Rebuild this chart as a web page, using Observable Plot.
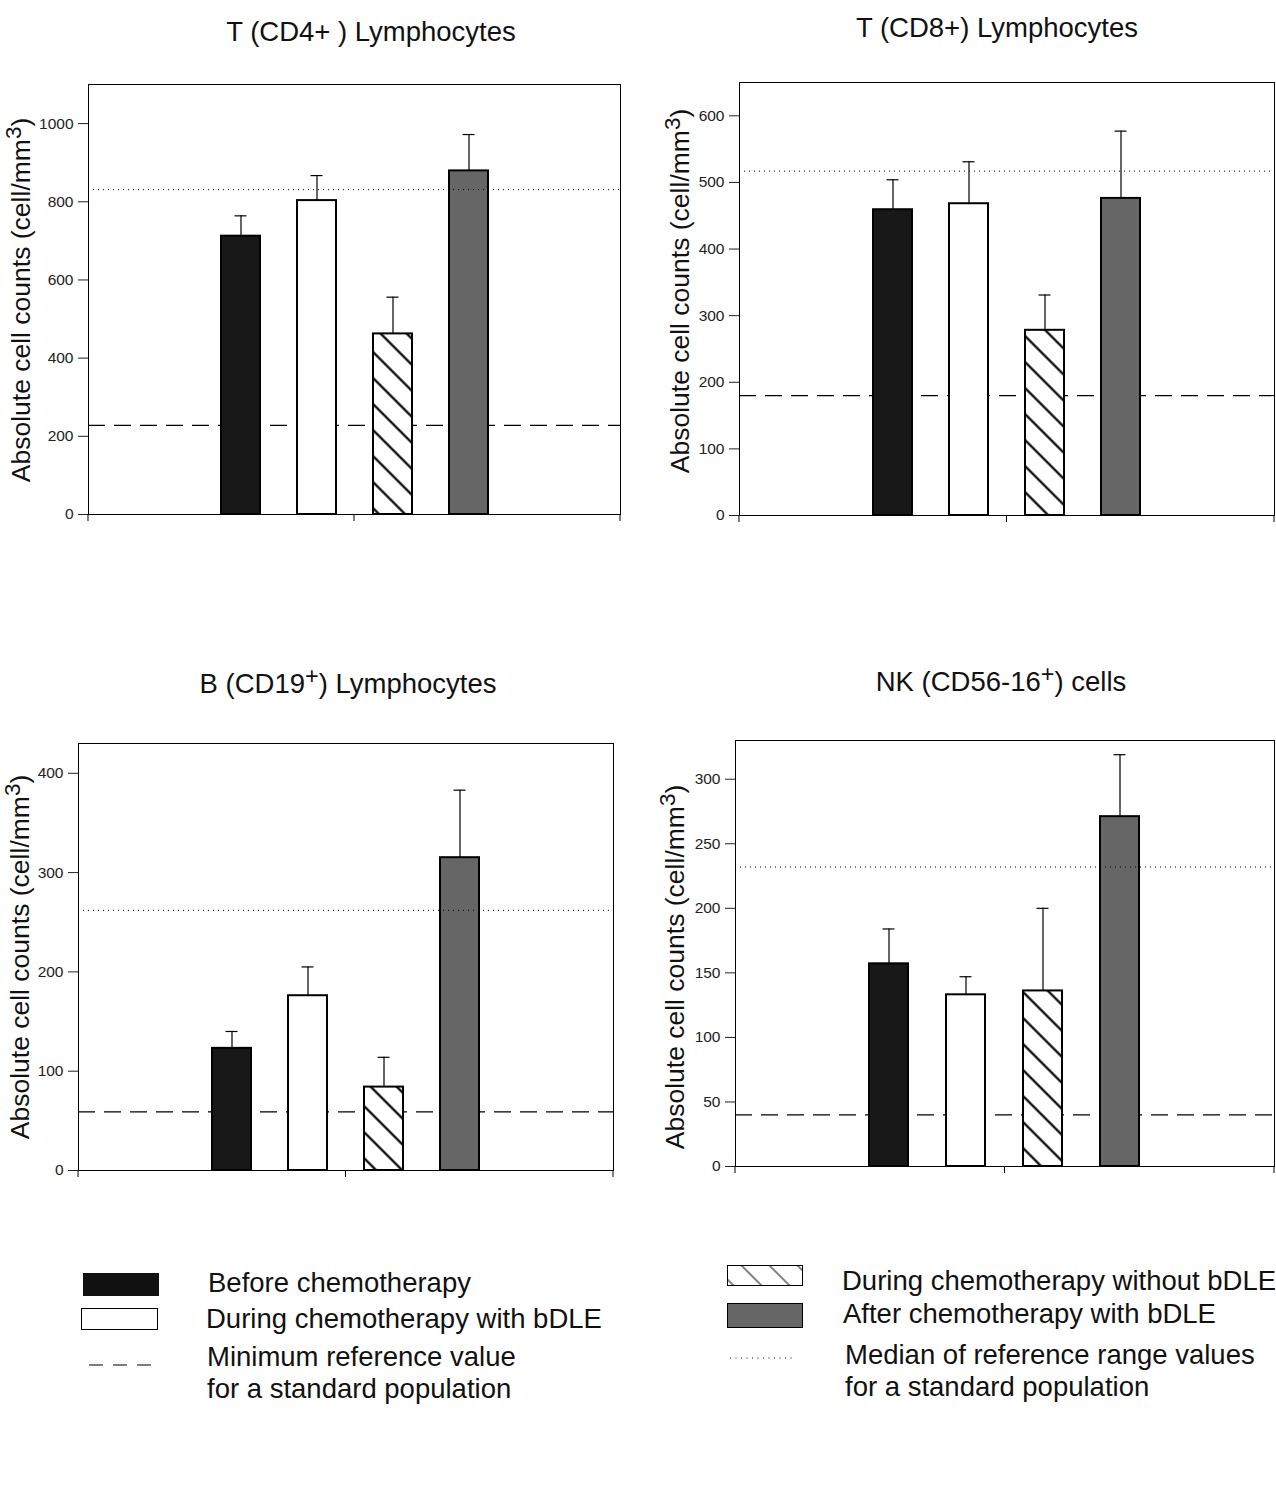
<!DOCTYPE html>
<html>
<head>
<meta charset="utf-8">
<script src="https://cdn.jsdelivr.net/npm/d3@7"></script>
<script src="https://cdn.jsdelivr.net/npm/@observablehq/plot@0.6"></script>
<style>
  body { margin: 0; background: #fff; font-family: "Liberation Sans", Arial, sans-serif; color: #111; }
  #page { position: relative; width: 1276px; height: 1510px; overflow: hidden; }
  .panel { position: absolute; }
  .title { position: absolute; font-size: 27.5px; white-space: nowrap; transform: translate(-50%, -50%); line-height: 1; }
  .ylab { position: absolute; font-size: 26.5px; white-space: nowrap; transform: translate(-50%, -50%) rotate(-90deg); line-height: 1.2; padding: 4px 0; }
  sup { font-size: 85%; vertical-align: 0.4em; line-height: 0; }
  .ltext { position: absolute; font-size: 27.5px; white-space: nowrap; transform: translateY(-50%); line-height: 1; }
  .lsw { position: absolute; }
</style>
</head>
<body>
<div id="page"></div>
<script>
// groups shown in every panel
const statuses = [
  "Before chemotherapy",
  "During chemotherapy with bDLE",
  "During chemotherapy without bDLE",
  "After chemotherapy with bDLE"
];

// T (CD4+) lymphocytes
const cd4Means = [712, 803, 462, 879];
const cd4Errors = [52, 64, 94, 93];
const cd4MinRef = 228;
const cd4MedianRef = 831;
const cd4Ticks = [0, 200, 400, 600, 800, 1000];
const cd4Max = 1100;

// T (CD8+) lymphocytes
const cd8Means = [459, 468, 278, 476];
const cd8Errors = [45, 63, 53, 101];
const cd8MinRef = 180;
const cd8MedianRef = 517;
const cd8Ticks = [0, 100, 200, 300, 400, 500, 600];
const cd8Max = 650;

// B (CD19+) lymphocytes
const cd19Means = [123, 176, 84, 315];
const cd19Errors = [17, 29, 30, 68];
const cd19MinRef = 59;
const cd19MedianRef = 262;
const cd19Ticks = [0, 100, 200, 300, 400];
const cd19Max = 430;

// NK (CD56-16+) cells
const nkMeans = [157, 133, 136, 271];
const nkErrors = [27, 14, 64, 48];
const nkMinRef = 40;
const nkMedianRef = 232;
const nkTicks = [0, 50, 100, 150, 200, 250, 300];
const nkMax = 330;

const yLabel = "Absolute cell counts (cell/mm<sup>3</sup>)";

const page = d3.select("#page");

function panel(cfg) {
  const rows = statuses.map((s, i) => ({
    status: s,
    mean: cfg.means[i],
    top: cfg.means[i] + cfg.errors[i]
  }));
  const hatchId = "hatch-" + cfg.key;
  const fillOf = {
    [statuses[0]]: "#181818",
    [statuses[1]]: "white",
    [statuses[2]]: `url(#${hatchId})`,
    [statuses[3]]: "#666666"
  };

  // pattern for the "without bDLE" bars
  const hatchDefs = () => {
    const defs = d3.create("svg:defs");
    const p = defs.append("pattern")
      .attr("id", hatchId)
      .attr("patternUnits", "userSpaceOnUse")
      .attr("width", 18.4).attr("height", 18.4)
      .attr("patternTransform", "rotate(-45)");
    p.append("rect").attr("width", 18.4).attr("height", 18.4).attr("fill", "white");
    p.append("line").attr("x1", 9.2).attr("x2", 9.2).attr("y1", -1).attr("y2", 19.4)
      .attr("stroke", "black").attr("stroke-width", 2.2);
    return defs.node();
  };

  // small ticks under the baseline: both ends and the middle
  const bottomTicks = (index, scales, values, dims) => {
    const x0 = dims.marginLeft, x1 = dims.width - dims.marginRight;
    const yb = dims.height - dims.marginBottom;
    const g = d3.create("svg:g").attr("stroke", "black");
    for (const x of [x0, (x0 + x1) / 2, x1]) {
      g.append("line").attr("x1", x).attr("x2", x).attr("y1", yb).attr("y2", yb + 7);
    }
    return g.node();
  };

  const chart = Plot.plot({
    width: cfg.width,
    height: cfg.height,
    marginLeft: cfg.ml,
    marginRight: cfg.mr,
    marginTop: 14,
    marginBottom: 20,
    style: { fontFamily: "Liberation Sans, Arial, sans-serif", fontSize: "15.5px", color: "#222", background: "white", overflow: "visible" },
    x: { domain: statuses, paddingInner: 0.49, paddingOuter: 1.745, axis: null },
    y: { domain: [0, cfg.max], ticks: cfg.ticks, tickFormat: "d", tickSize: 10, tickPadding: 5, label: null },
    color: { type: "identity" },
    marks: [
      hatchDefs,
      Plot.ruleY([cfg.minRef], { stroke: "black", strokeWidth: 1.1, strokeDasharray: "17,9" }),
      Plot.ruleX(rows, { x: "status", y1: "mean", y2: "top", stroke: "black", strokeWidth: 1.2 }),
      Plot.tickY(rows, { x: "status", y: "top", stroke: "black", strokeWidth: 1.2, insetLeft: 13.5, insetRight: 13.5 }),
      Plot.barY(rows, { x: "status", y: "mean", fill: d => fillOf[d.status], stroke: "black", strokeWidth: 2 }),
      Plot.ruleY([cfg.medianRef], { stroke: "black", strokeWidth: 1, strokeDasharray: "1,4" }),
      Plot.frame({ stroke: "black", strokeWidth: 1 }),
      bottomTicks
    ]
  });

  page.append("div").attr("class", "panel")
    .style("left", cfg.left + "px").style("top", cfg.top + "px")
    .append(() => chart);
  page.append("div").attr("class", "title")
    .style("left", cfg.titleX + "px").style("top", cfg.titleY + "px")
    .html(cfg.title);
  page.append("div").attr("class", "ylab")
    .style("left", cfg.labX + "px").style("top", cfg.labY + "px")
    .html(yLabel);
}

panel({ key: "cd4", title: "T (CD4+ ) Lymphocytes", means: cd4Means, errors: cd4Errors,
  minRef: cd4MinRef, medianRef: cd4MedianRef, ticks: cd4Ticks, max: cd4Max,
  left: 0, top: 70, width: 630, height: 464, ml: 88, mr: 10,
  titleX: 371, titleY: 32, labX: 22, labY: 300 });

panel({ key: "cd8", title: "T (CD8+) Lymphocytes", means: cd8Means, errors: cd8Errors,
  minRef: cd8MinRef, medianRef: cd8MedianRef, ticks: cd8Ticks, max: cd8Max,
  left: 640, top: 68, width: 636, height: 467, ml: 99, mr: 2,
  titleX: 997, titleY: 28, labX: 681, labY: 291 });

panel({ key: "cd19", title: "B (CD19<sup>+</sup>) Lymphocytes", means: cd19Means, errors: cd19Errors,
  minRef: cd19MinRef, medianRef: cd19MedianRef, ticks: cd19Ticks, max: cd19Max,
  left: 0, top: 729, width: 630, height: 461, ml: 78, mr: 17,
  titleX: 348, titleY: 684, labX: 21, labY: 957 });

panel({ key: "nk", title: "NK (CD56-16<sup>+</sup>) cells", means: nkMeans, errors: nkErrors,
  minRef: nkMinRef, medianRef: nkMedianRef, ticks: nkTicks, max: nkMax,
  left: 640, top: 726, width: 636, height: 460, ml: 95, mr: 2,
  titleX: 1001, titleY: 682, labX: 676, labY: 967 });

// legend
function swatch(x, y, w, h, inner) {
  page.append("svg").attr("class", "lsw")
    .style("left", x + "px").style("top", y + "px")
    .attr("width", w).attr("height", h)
    .html(inner);
}
function ltext(x, y, t) {
  page.append("div").attr("class", "ltext")
    .style("left", x + "px").style("top", y + "px").text(t);
}

swatch(83, 1273, 76, 23, `<rect x="0" y="0" width="76" height="23" fill="#111"/>`);
swatch(81, 1308, 77, 22, `<rect x="0.5" y="0.5" width="76" height="21" fill="white" stroke="black"/>`);
swatch(88, 1360, 66, 10, `<line x1="1" x2="65" y1="5" y2="5" stroke="black" stroke-width="1.2" stroke-dasharray="14,10"/>`);
ltext(208, 1283, statuses[0]);
ltext(206, 1319, statuses[1]);
ltext(207, 1357, "Minimum reference value");
ltext(207, 1389, "for a standard population");

swatch(727, 1265, 76, 22, `<defs><pattern id="lhatch" patternUnits="userSpaceOnUse" width="19.8" height="19.8" patternTransform="rotate(-45)"><line x1="9.9" x2="9.9" y1="-1" y2="21" stroke="black" stroke-width="1"/></pattern></defs><rect x="0.5" y="0.5" width="75" height="20" fill="white"/><rect x="0.5" y="0.5" width="75" height="20" fill="url(#lhatch)" stroke="black"/>`);
swatch(727, 1303, 76, 25, `<rect x="0.5" y="0.5" width="75" height="24" fill="#666" stroke="black"/>`);
swatch(728, 1354, 66, 8, `<line x1="2" x2="64" y1="4" y2="4" stroke="black" stroke-width="1" stroke-dasharray="1,4.5"/>`);
ltext(842, 1281, statuses[2]);
ltext(843, 1314, statuses[3]);
ltext(845, 1355, "Median of reference range values");
ltext(845, 1387, "for a standard population");
</script>
</body>
</html>
